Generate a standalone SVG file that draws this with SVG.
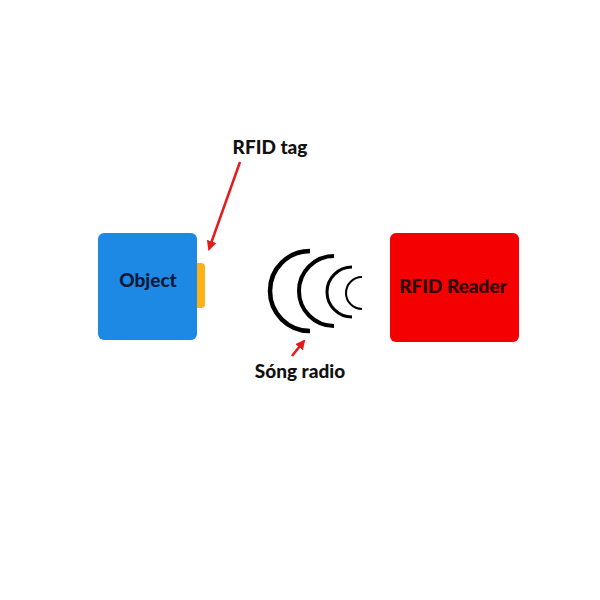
<svg xmlns="http://www.w3.org/2000/svg" width="600" height="600" viewBox="0 0 600 600">
<style>
.lbl{font-family:Lato,"Noto Sans",sans-serif;font-weight:900;font-size:19px;fill:#111}
.wave{fill:none;stroke:#000;stroke-linecap:butt}
.arrow{stroke:#e31b1b;stroke-width:2.5;fill:none}
</style>
<defs>
<marker id="ah" viewBox="0 0 10 10" refX="8" refY="5" markerWidth="4" markerHeight="4" orient="auto" markerUnits="strokeWidth">
<path d="M0,0 L10,5 L0,10 z" fill="#e31b1b"/>
</marker>
</defs>
<rect width="600" height="600" fill="#fff"/>
<g id="object">
<rect x="98" y="233" width="99" height="107" rx="6" fill="#1e88e5"/>
<rect x="192" y="263" width="13" height="45" rx="4" fill="#fbb117"/>
<rect x="192" y="263" width="5" height="45" fill="#1e88e5"/>
<text class="lbl" x="148" y="287" text-anchor="middle" style="fill:#0a1a3a">Object</text>
</g>
<g id="reader">
<rect x="390" y="233" width="129" height="109" rx="6" fill="#f40000"/>
<text class="lbl" x="453" y="293" text-anchor="middle" style="fill:#2a0000">RFID Reader</text>
</g>
<g id="waves">
<path class="wave" stroke-width="4.5" d="M310,251 A40,40 0 0 0 310,331"/>
<path class="wave" stroke-width="4" d="M334,256 A35,35 0 0 0 334,326"/>
<path class="wave" stroke-width="3" d="M352,267 A25,25 0 0 0 352,317"/>
<path class="wave" stroke-width="2" d="M362,277 A16,16 0 0 0 362,309"/>
</g>
<g id="labels">
<text class="lbl" x="270" y="154" text-anchor="middle">RFID tag</text>
<text class="lbl" x="300" y="378" text-anchor="middle">Sóng radio</text>
</g>
<g id="connectors">
<line class="arrow" x1="240" y1="162" x2="209" y2="249" marker-end="url(#ah)"/>
<line class="arrow" x1="292" y1="356" x2="304" y2="341" marker-end="url(#ah)"/>
</g>
</svg>
